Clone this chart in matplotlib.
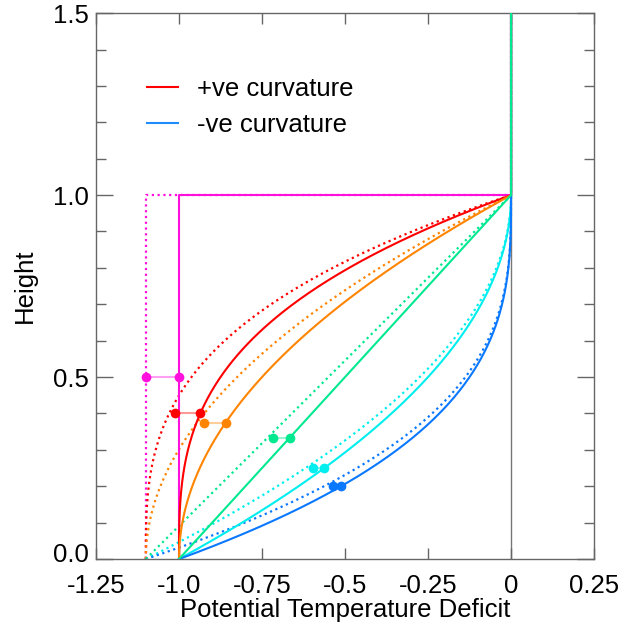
import numpy as np
import matplotlib
matplotlib.use("Agg")
import matplotlib.pyplot as plt
import matplotlib.transforms as mtransforms
from matplotlib.lines import Line2D
from matplotlib.ticker import MultipleLocator, FixedLocator, FixedFormatter

plt.rcParams['font.family'] = ['Liberation Sans', 'DejaVu Sans']

# profile shapes: surface deficit -1 (solid) or -1.1 (dotted),
# deficit reaches 0 at height 1 and stays 0 above
solidAmp = 1.0
dottedAmp = 1.1
topHeight = 1.5

# step profile (magenta)
stepX = [-1.0, -1.0, 0.0, 0.0]
stepZ = [0.0, 1.0, 1.0, 1.5]

# +ve curvature: deficit = z^p - 1 ; -ve curvature: deficit = -(1-z)^q
posExponents = [3, 2, 1]
negExponents = [2, 3]

names = ['step', 'pos3', 'pos2', 'lin', 'neg2', 'neg3']
colors = ['#ff10dc', '#ff0000', '#ff8400', '#00e890', '#00eeee', '#0a78ff']

# centroid markers (height, deficit on solid curve, deficit for dotted case)
dotZ = [0.5, 0.4, 0.375, 0.333, 0.25, 0.2]
dotSolidX = [-1.0, -0.936, -0.859, -0.667, -0.5625, -0.512]
dotDottedX = [-1.1, -1.011, -0.926, -0.717, -0.596, -0.537]

xTicks = [-1.25, -1.0, -0.75, -0.5, -0.25, 0, 0.25]
xTickLabels = ['-1.25', '-1.0', '-0.75', '-0.5', '-0.25', '0', '0.25']
yTicks = [0.0, 0.5, 1.0, 1.5]
yTickLabels = ['0.0', '0.5', '1.0', '1.5']

legendLabels = ['+ve curvature', '-ve curvature']

FS = 18.5


def profile(kind, expo, amp):
  z = np.linspace(0, 1, 400)
  if kind == 'pos':
    x = amp * (z ** expo - 1)
  else:
    x = -amp * (1 - z) ** expo
  return np.append(x, 0.0), np.append(z, topHeight)


def main():
  fig = plt.figure(figsize=(6.21, 6.26), dpi=100)
  ax = fig.add_axes([0.1546, 0.107, 0.802, 0.872])

  ax.axvline(0, color='#777777', lw=1, zorder=1)

  curves = [(np.array(stepX), np.array(stepZ),
             np.array(stepX) * dottedAmp, np.array(stepZ))]
  for p in posExponents:
    xs, zs = profile('pos', p, solidAmp)
    xd, zd = profile('pos', p, dottedAmp)
    curves.append((xs, zs, xd, zd))
  for q in negExponents:
    xs, zs = profile('neg', q, solidAmp)
    xd, zd = profile('neg', q, dottedAmp)
    curves.append((xs, zs, xd, zd))

  drawOrder = [0, 1, 2, 4, 5, 3]
  for k, i in enumerate(drawOrder):
    xs, zs, xd, zd = curves[i]
    c = colors[i]
    ax.plot(xd, zd, color=c, lw=1.6, ls=(0, (1, 1.6)), zorder=2 + k * 0.1)
    ax.plot(xs, zs, color=c, lw=1.5, zorder=3 + k * 0.1)

  for i in range(len(names)):
    c = colors[i]
    ax.plot([dotDottedX[i], dotSolidX[i]], [dotZ[i], dotZ[i]], color=c,
            alpha=0.4, lw=1.5, zorder=4)
    ax.plot([dotDottedX[i], dotSolidX[i]], [dotZ[i], dotZ[i]], 'o', color=c,
            ms=7, mec='none', zorder=5)

  ax.set_xlim(-1.25, 0.25)
  ax.set_ylim(0, 1.5)
  ax.xaxis.set_major_locator(FixedLocator(xTicks))
  ax.xaxis.set_major_formatter(FixedFormatter(xTickLabels))
  ax.yaxis.set_major_locator(FixedLocator(yTicks))
  ax.yaxis.set_major_formatter(FixedFormatter(yTickLabels))
  ax.yaxis.set_minor_locator(MultipleLocator(0.1))

  ax.tick_params(axis='both', which='both', direction='in', top=True, right=True,
                 color='#666666', labelsize=FS, width=1)
  ax.tick_params(axis='x', which='major', length=8, pad=11)
  ax.tick_params(axis='y', which='major', length=12, pad=5)
  ax.tick_params(axis='y', which='minor', length=7)
  for s in ax.spines.values():
    s.set_color('#666666')
    s.set_linewidth(1)

  # bottom y label sits a little above its tick
  lift = mtransforms.ScaledTranslation(0, 5 / 72, fig.dpi_scale_trans)
  lbl0 = ax.yaxis.get_major_ticks()[0].label1
  lbl0.set_transform(lbl0.get_transform() + lift)

  ax.set_xlabel('Potential Temperature Deficit', fontsize=FS, labelpad=0)
  ax.set_ylabel('Height', fontsize=FS, labelpad=12)

  handles = [Line2D([], [], color=colors[1], lw=1.5),
             Line2D([], [], color='#1e8cff', lw=1.5)]
  ax.legend(handles, legendLabels, loc='upper left', bbox_to_anchor=(0.102, 0.883),
            frameon=False, fontsize=FS, handlelength=1.2, handletextpad=0.75,
            labelspacing=0.45, borderpad=0, borderaxespad=0)

  plt.savefig('out.png', dpi=100)


if __name__ == "__main__":
  main()
